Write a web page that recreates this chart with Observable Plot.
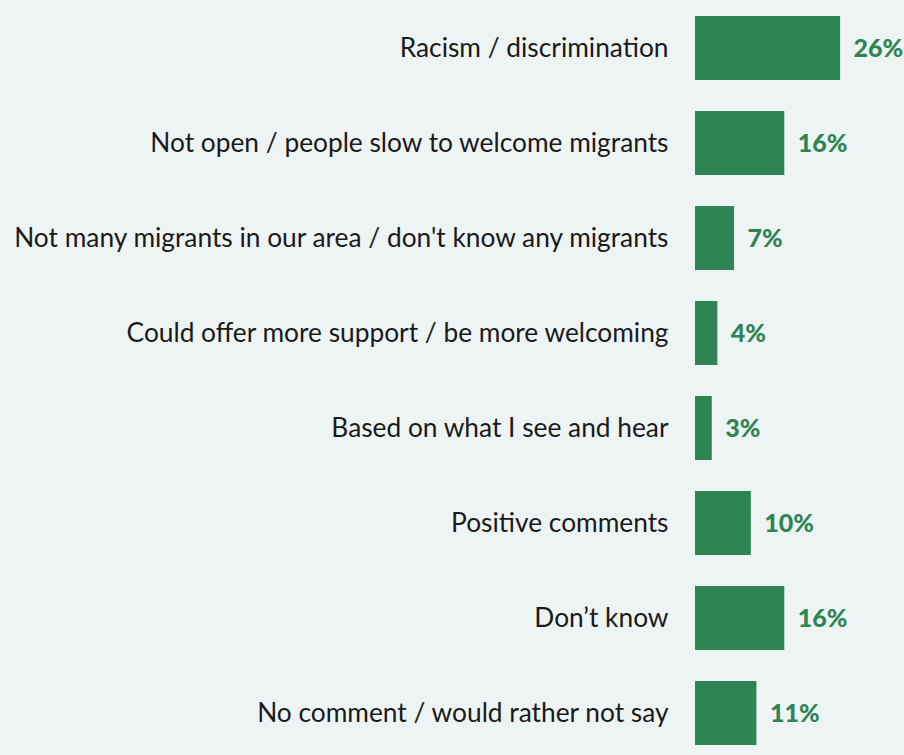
<!DOCTYPE html>
<html>
<head>
<meta charset="utf-8">
<script src="https://cdn.jsdelivr.net/npm/d3@7"></script>
<script src="https://cdn.jsdelivr.net/npm/@observablehq/plot@0.6"></script>
<style>
  html, body { margin: 0; padding: 0; background: #eef4f4; overflow: hidden; }
  #chart { width: 904px; height: 755px; }
</style>
</head>
<body>
<div id="chart"></div>
<script>
const categories = [
  "Racism / discrimination",
  "Not open / people slow to welcome migrants",
  "Not many migrants in our area / don't know any migrants",
  "Could offer more support / be more welcoming",
  "Based on what I see and hear",
  "Positive comments",
  "Don\u2019t know",
  "No comment / would rather not say"
];
const values = [26, 16, 7, 4, 3, 10, 16, 11];
const valueLabels = ["26%", "16%", "7%", "4%", "3%", "10%", "16%", "11%"];

const data = categories.map((c, i) => ({category: c, value: values[i], label: valueLabels[i]}));
const green = "#2e8453";

const chart = Plot.plot({
  width: 904,
  height: 760,
  marginLeft: 695,
  marginRight: 0,
  marginTop: 0,
  marginBottom: 0,
  style: {background: "#eef4f4", fontFamily: "Lato, sans-serif"},
  x: {domain: [0, 37.45], axis: null},
  y: {domain: categories, axis: null, padding: 0.33, paddingOuter: 0.165, range: [0, 760]},
  marks: [
    Plot.barX(data, {y: "category", x: "value", fill: green}),
    Plot.ruleX([0], {stroke: "#d9d9d9", strokeWidth: 2, y1: 0, y2: 760, dx: -1}),
    Plot.text(data, {y: "category", x: 0, text: "category", textAnchor: "end", dx: -27, fontSize: 26.3, fill: "#1a1a1a"}),
    Plot.text(data, {y: "category", x: "value", text: "label", textAnchor: "start", dx: 13, fontSize: 25, fontWeight: 900, fill: green})
  ]
});
document.getElementById("chart").appendChild(chart);
</script>
</body>
</html>
